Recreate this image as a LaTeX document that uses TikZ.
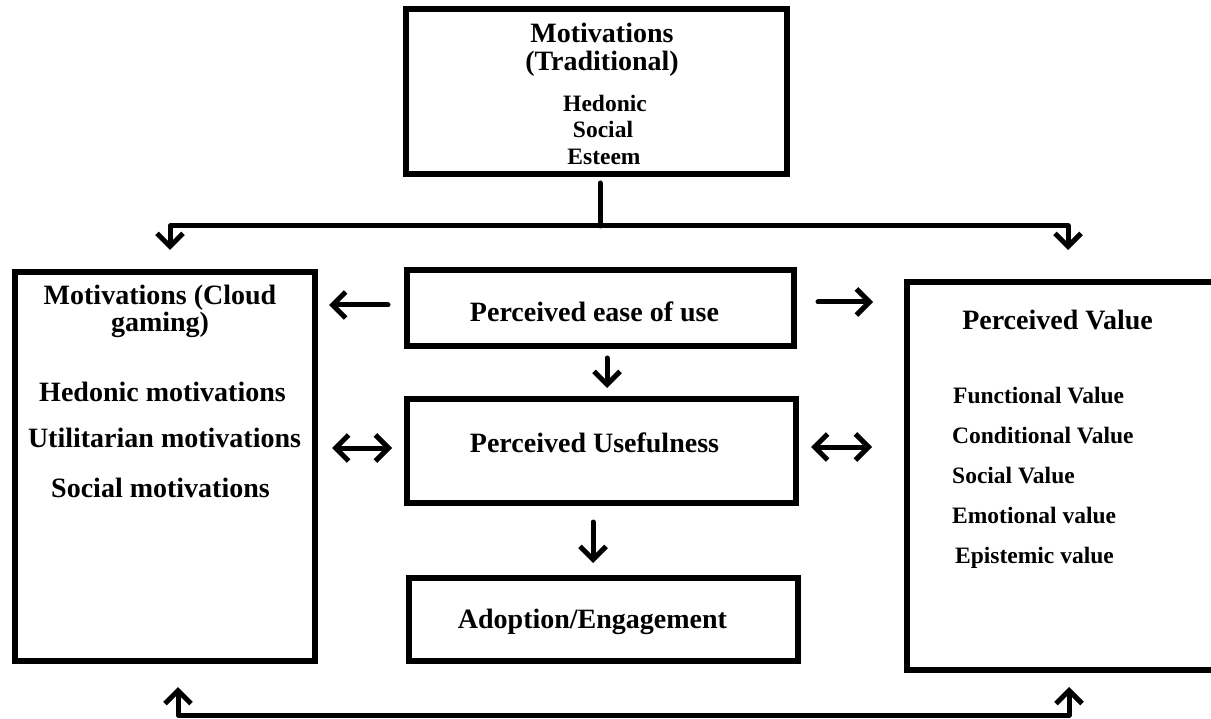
\documentclass[tikz,border=0pt]{standalone}
\usepackage{fontspec}
\setmainfont{Liberation Serif}
\usetikzlibrary{arrows.meta,calc}
\begin{document}
\begin{tikzpicture}[x=1pt,y=-1pt,
  boxstyle/.style={draw, line width=6pt, rectangle, inner sep=0pt, outer sep=0pt},
  headtxt/.style={font=\fontsize{28}{30}\selectfont\bfseries, inner sep=0pt, anchor=base},
  listtxt/.style={font=\fontsize{23.5}{26}\selectfont\bfseries, inner sep=0pt, anchor=base},
  listleft/.style={listtxt, anchor=base west},
  conn/.style={line width=5pt, line cap=round, line join=round},
  barb/.tip={Straight Barb[length=13pt,width=26pt]},
]
\clip (0,0) rectangle (1211,719);
\fill[white] (0,0) rectangle (1211,719);

% boxes
\node[boxstyle, minimum width=381pt, minimum height=165pt] (trad) at (596.5,92) {};
\node[boxstyle, minimum width=300pt, minimum height=389pt] (left) at (165,466.5) {};
\node[boxstyle, minimum width=323pt, minimum height=388pt] (right) at (1068.5,476) {};
\node[boxstyle, minimum width=387pt, minimum height=76pt] (ease) at (600.5,308.5) {};
\node[boxstyle, minimum width=389pt, minimum height=104pt] (useful) at (601.5,451) {};
\node[boxstyle, minimum width=389pt, minimum height=83pt] (adopt) at (603.5,619.5) {};

% texts: traditional motivations
\node[headtxt] (tradh1) at (602,43) {Motivations};
\node[headtxt] (tradh2) at (602,71) {(Traditional)};
\node[listtxt] (trad1) at (605,112) {Hedonic};
\node[listtxt] (trad2) at (603,138) {Social};
\node[listtxt] (trad3) at (604,165) {Esteem};

% texts: cloud gaming motivations
\node[headtxt] (lefth1) at (160,305) {Motivations (Cloud};
\node[headtxt] (lefth2) at (160,332) {gaming)};
\node[headtxt] (left1) at (162.5,402) {Hedonic motivations};
\node[headtxt] (left2) at (164.5,447) {Utilitarian motivations};
\node[headtxt] (left3) at (160.5,497) {Social motivations};

% texts: perceived value
\node[headtxt] (righth) at (1057.5,330) {Perceived Value};
\node[listleft] (right1) at (953,403) {Functional Value};
\node[listleft] (right2) at (952,443) {Conditional Value};
\node[listleft] (right3) at (952,483) {Social Value};
\node[listleft] (right4) at (952,523) {Emotional value};
\node[listleft] (right5) at (955,563) {Epistemic value};

% texts: center column
\node[headtxt] (easet) at (594.5,322) {Perceived ease of use};
\node[headtxt] (usefult) at (594.5,452) {Perceived Usefulness};
\node[headtxt] (adoptt) at (592.5,628) {Adoption/Engagement};

% connectors
\coordinate (fork) at (600,226);
\coordinate (fl) at (170,226);
\coordinate (fr) at (1068,226);
\draw[conn, shorten <=8.5pt] (trad.south -| fork) -- (fork);
\draw[conn, arrows={barb-barb}, shorten <=22pt, shorten >=32pt]
  (fl |- left.north) -- (fl) -- (fr) -- (fr |- right.north);

\coordinate (bl) at (178,715);
\coordinate (br) at (1069,715);
\draw[conn, arrows={barb-barb}, shorten <=26pt, shorten >=17pt]
  (bl |- left.south) -- (bl) -- (br) -- (br |- right.south);

\draw[conn, arrows={-barb}, shorten <=19pt, shorten >=14pt]
  ($(ease.west)+(0,-3.5)$) -- ($(ease.west -| left.east)+(0,-3.5)$);
\draw[conn, arrows={-barb}, shorten <=24pt, shorten >=34pt]
  ($(ease.east)+(0,-6.5)$) -- ($(ease.east -| right.west)+(0,-6.5)$);
\draw[conn, arrows={-barb}, shorten <=11.5pt, shorten >=11pt]
  ($(ease.south)+(6.5,0)$) -- ($(ease.south |- useful.north)+(6.5,0)$);
\draw[conn, arrows={barb-barb}, shorten <=15pt, shorten >=17pt]
  ($(useful.west)+(0,-3)$) -- ($(useful.west -| left.east)+(0,-3)$);
\draw[conn, arrows={barb-barb}, shorten <=15pt, shorten >=35pt]
  ($(useful.east)+(0,-4)$) -- ($(useful.east -| right.west)+(0,-4)$);
\draw[conn, arrows={-barb}, shorten <=19pt, shorten >=15pt]
  ($(useful.south)+(-8.5,0)$) -- ($(useful.south |- adopt.north)+(-8.5,0)$);
\end{tikzpicture}
\end{document}
